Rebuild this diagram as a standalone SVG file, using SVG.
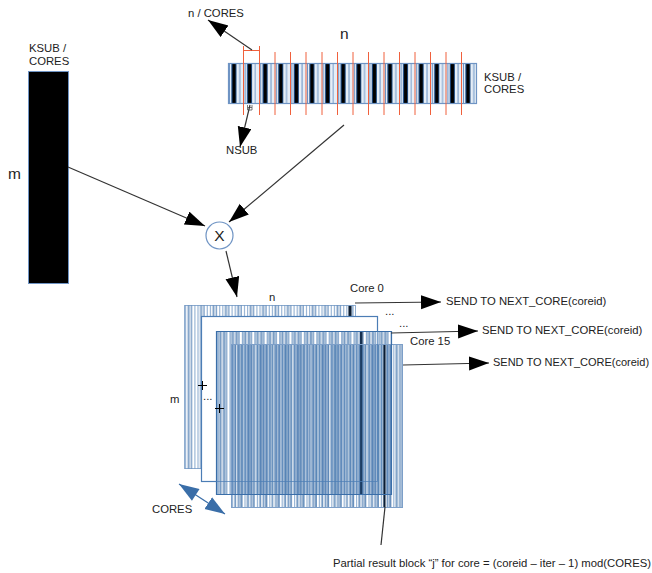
<svg xmlns="http://www.w3.org/2000/svg" width="652" height="573" viewBox="0 0 652 573">
<style>
text{font-family:"Liberation Sans",Arial,sans-serif;font-size:11.3px;fill:#222}
.big{font-size:15.5px}
.conn{stroke:#333;stroke-width:1.2;fill:none}
.red{stroke:#f0603c;stroke-width:1;fill:none}
.frame{fill:none;stroke:#3a6ea8;stroke-width:1.2}
.bar{fill:none;stroke-width:40}
.s{fill:none}
.a{stroke:#4a7cb5;stroke-opacity:.55;stroke-dasharray:1.2 1.9}
.b{stroke:#3a6ea8;stroke-opacity:.42;stroke-dasharray:2.4 3.8}
.c{stroke:#2f63a0;stroke-opacity:.25;stroke-dasharray:5 7.4}
.w{stroke:#fff;stroke-opacity:.65;stroke-dasharray:1 17.6}
</style>
<defs>
<marker id="arrow" markerUnits="userSpaceOnUse" markerWidth="22" markerHeight="16" refX="20" refY="7" orient="auto"><path d="M0 0L20 7L0 14Z" fill="#000"/></marker>
<marker id="blueEnd" markerUnits="userSpaceOnUse" markerWidth="22" markerHeight="16" refX="20" refY="7" orient="auto"><path d="M0 0L20 7L0 14Z" fill="#3a6ea8"/></marker>
<marker id="blueStart" markerUnits="userSpaceOnUse" markerWidth="22" markerHeight="16" refX="0" refY="7" orient="auto"><path d="M20 0L0 7L20 14Z" fill="#3a6ea8"/></marker>
</defs>
<g id="matrix-m">
<rect x="28.500" y="71.500" width="40" height="212" fill="#000" stroke="#6f94c4"/>
<text x="29" y="52">KSUB /</text><text x="29" y="65">CORES</text>
<text x="8" y="179" class="big">m</text>
</g>
<g id="matrix-n">
<rect x="228.500" y="63.500" width="248" height="40" fill="#e6eef7"/>
<path class="bar" stroke="#6f94c4" stroke-dasharray="1 4.200" d="M229 83.500H476"/>
<path class="bar" stroke="#a9c1de" stroke-dasharray="1.500 6.300" d="M231 83.500H476"/>
<path class="bar" stroke="#1d4a80" stroke-dasharray="5 10.600" d="M231.500 83.500H476"/>
<path class="bar" stroke="#000" stroke-dasharray="3 12.600" d="M232.500 83.500H476"/>
<rect x="228.500" y="63.500" width="248" height="40" fill="none" stroke="#6f94c4" stroke-width="1.2"/>
<path class="red" d="M243.500 46V115M259.500 46V115M275 52V115M290.500 52V115M306 52V115M322 52V115M337.500 52V115M353 52V115M368.500 52V115M384 52V115M399.500 52V115M415 52V115M430.500 52V115M446 52V115M461.500 52V115"/>
<path class="red" d="M243.500 50.500H259.500"/>
<path d="M247.500 105V110H252V105M247.500 107.500H252" stroke="#555" fill="none" stroke-width=".8"/>
<text x="340" y="39" class="big">n</text>
<text x="484" y="81">KSUB /</text><text x="484" y="93">CORES</text>
<text x="188" y="17">n / CORES</text>
<text x="226" y="154">NSUB</text>
</g>
<g id="multiply">
<circle cx="219.500" cy="235.500" r="13.500" fill="#fff" stroke="#6f94c4" stroke-width="1.2"/>
<text x="219.500" y="241" text-anchor="middle" class="big">X</text>
</g>
<g id="core-stack">
<g id="layer-1">
<rect x="184.500" y="305.500" width="171" height="163" fill="#fff" stroke="#8fadd0"/>
<path class="s a" stroke-width="163" d="M185 387H355"/>
<path class="s c" stroke-width="163" d="M187 387H355"/>
<rect x="348.500" y="306" width="3" height="11" fill="#0c1c30"/>
</g>
<g id="layer-2">
<rect x="201.500" y="316.500" width="176" height="165" fill="#fff" stroke="#4c7db5" stroke-width="1.2"/>
</g>
<g id="layer-3">
<rect x="216.500" y="331.500" width="175" height="163" fill="#fff"/>
<path class="s a" stroke-width="163" d="M217 413H391"/>
<path class="s b" stroke-width="163" d="M218 413H391"/>
<path class="s c" stroke-width="163" d="M220 413H391"/>
<rect x="360" y="332" width="2.500" height="162" fill="#16304f"/>
</g>
<g id="layer-4">
<path class="s a" stroke-width="163" d="M232 426H402"/>
<path class="s b" stroke-width="163" d="M234 426H402"/>
<path class="s c" stroke-width="163" d="M237 426H402"/>
<path class="s w" stroke-width="163" d="M236 426H402"/>
<rect x="231.500" y="344.500" width="171" height="163" fill="none" stroke="#7d9fc8"/>
<rect x="383.500" y="345" width="2" height="162" fill="#0c1c30"/>
</g>
<path class="frame" d="M216.500 331.500H391.500V494.500H216.500Z"/>
<path d="M201.500 481.500H377.500V316.500" fill="none" stroke="#4c7db5" stroke-opacity=".7"/>
<text x="269" y="301">n</text>
<text x="170" y="403">m</text>
<text x="350" y="292">Core 0</text>
<text x="410" y="345">Core 15</text>
<text x="385" y="315">...</text>
<text x="399" y="327">...</text>
<text x="203" y="400">...</text>
<path d="M198 385.500H207M202.500 381V390M215 408.500H224M219.500 404V413" stroke="#000" fill="none"/>
<text x="152" y="513">CORES</text>
</g>
<g id="send-labels">
<text x="446" y="305">SEND TO NEXT_CORE(coreid)</text>
<text x="482" y="334">SEND TO NEXT_CORE(coreid)</text>
<text x="493" y="366" style="font-size:11px">SEND TO NEXT_CORE(coreid)</text>
<text x="333" y="567">Partial result block “j” for core = (coreid – iter – 1) mod(CORES)</text>
</g>
<g id="connectors">
<path class="conn" marker-end="url(#arrow)" d="M252 50L208 20"/>
<path class="conn" marker-end="url(#arrow)" d="M250 105L240 147"/>
<path class="conn" marker-end="url(#arrow)" d="M68 167L205 226"/>
<path class="conn" marker-end="url(#arrow)" d="M344 125L229 222"/>
<path class="conn" marker-end="url(#arrow)" d="M226 251L237 297"/>
<path class="conn" marker-end="url(#arrow)" d="M355 303L441 302"/>
<path class="conn" marker-end="url(#arrow)" d="M391 333L478 331"/>
<path class="conn" marker-end="url(#arrow)" d="M403 365L489 363"/>
<path class="conn" d="M385 507L381 545"/>
<path stroke="#3a6ea8" stroke-width="1.2" fill="none" marker-start="url(#blueStart)" marker-end="url(#blueEnd)" d="M179 484L225 514"/>
</g>
</svg>
